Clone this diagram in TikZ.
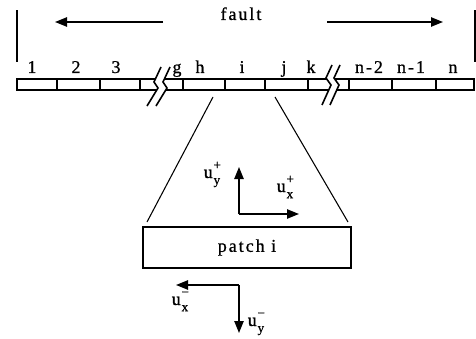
\documentclass[tikz,border=0pt]{standalone}
\usepackage{fontspec}
\setmainfont{Liberation Serif}
\newfontfamily\lbl[LetterSpace=11,FakeBold=0.8]{Liberation Serif}
\usetikzlibrary{arrows.meta}
\newcommand\ulab[2]{u\kern0.6pt\makebox[0pt][l]{\raisebox{1.05ex}{\fontsize{10}{10}\selectfont #1}}\raisebox{-0.75ex}{\fontsize{10}{10}\selectfont #2}}
\tikzset{
  wire/.style={line width=1.1pt},
  seg/.style={draw, line width=1.5pt, fill=white},
  tick/.style={line width=1.4pt},
  brk/.style={line width=1.2pt, line join=miter},
  arr/.style={line width=1.1pt, -{Triangle[length=9pt,width=7pt]}},
  txt/.style={inner sep=0pt, anchor=base, font=\fontsize{13.5}{13.5}\lbl},
}
\begin{document}
\begin{tikzpicture}[x=0.75pt,y=-0.75pt]
\useasboundingbox (0,0) rectangle (476,339);

% fault direction marks
\draw[wire] (17,10) -- (17,62);
\draw[wire] (475,10) -- (475,62);
\node[txt] (fault) at (241,20) {fault};
\coordinate (la) at (163,22); \coordinate (lb) at (55,22);
\coordinate (ra) at (327,22); \coordinate (rb) at (443,22);
\draw[arr] (la) -- (lb);
\draw[arr] (ra) -- (rb);

% the fault as a row of patches
\draw[seg] (17,79) rectangle (474,90);
\foreach \x in {57,100,140,183,225,265,308,349,392,436}
  \draw[tick] (\x,79) -- (\x,90);

% break symbols
\fill[white] (161,67) -- (154,82) -- (158,88) -- (147,106) -- (156,106) -- (167,88) -- (163,82) -- (170,67) -- cycle;
\draw[brk] (161,67) -- (154,82) -- (158,88) -- (147,106);
\draw[brk] (170,67) -- (163,82) -- (167,88) -- (156,106);
\fill[white] (332,65) -- (326,78) -- (331,85) -- (322,105) -- (330,105) -- (339,85) -- (334,78) -- (340,65) -- cycle;
\draw[brk] (332,65) -- (326,78) -- (331,85) -- (322,105);
\draw[brk] (340,65) -- (334,78) -- (339,85) -- (330,105);

% patch numbers
\foreach \x/\t in {32/1,76/2,116/3,177/g,200/h,242/i,284/j,311/k,369/n-2,411/n-1,453/n}
  \node[txt] at (\x,73) {\t};

% enlarged patch
\node[draw, line width=1.5pt, minimum width=208*0.75pt, minimum height=41*0.75pt,
      inner sep=0pt, font=\fontsize{13.5}{13.5}\lbl] (patch) at (247,247.5) {patch i};
\coordinate (zl) at (213,97); \coordinate (zr) at (275,97);
\coordinate (pl) at (147,222); \coordinate (pr) at (348,222);
\draw[line width=0.8pt] (zl) -- (pl);
\draw[line width=0.8pt] (zr) -- (pr);

% slip on the upper side
\coordinate (o1) at (239,214);
\coordinate (uy) at (239,167);
\coordinate (ux) at (299,214);
\draw[arr] (o1) -- (uy);
\draw[arr] (o1) -- (ux);
\node[txt] (uyp) at (212,178) {\ulab{+}{y}};
\node[txt] (uxp) at (285,192) {\ulab{+}{x}};

% slip on the lower side
\coordinate (o2) at (239,285);
\coordinate (dx) at (176,285);
\coordinate (dy) at (239,333);
\draw[arr] (o2) -- (dx);
\draw[arr] (o2) -- (dy);
\node[txt] (uxm) at (180,305) {\ulab{−}{x}};
\node[txt] (uym) at (256,326) {\ulab{−}{y}};
\end{tikzpicture}
\end{document}
